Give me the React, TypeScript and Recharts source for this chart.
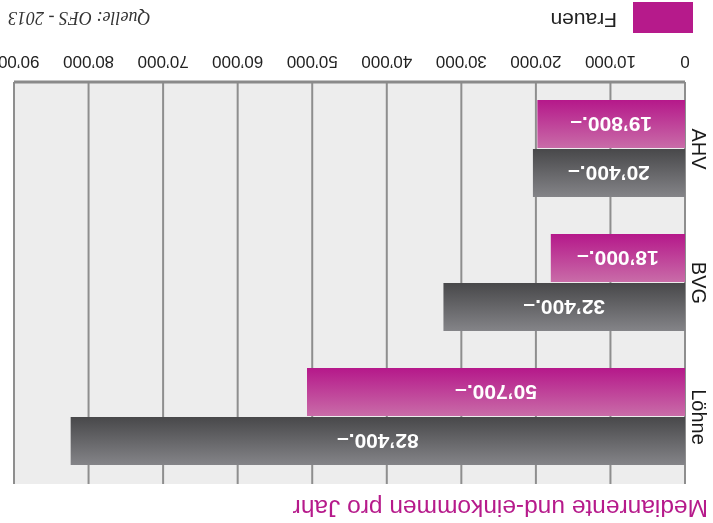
import { Bar, BarChart, CartesianGrid, LabelList, XAxis, YAxis } from "recharts";

// the reference is printed upside down, so the whole chart is drawn normally and turned 180deg
const categories = ["Löhne", "BVG", "AHV"];
const maenner = [82400, 32400, 20400];
const frauen = [50700, 18000, 19800];
const xTicks = [0, 10000, 20000, 30000, 40000, 50000, 60000, 70000, 80000, 90000];

const data = categories.map((name, i) => ({ name, maenner: maenner[i], frauen: frauen[i] }));

const MAGENTA = "#b61a8b";
const SANS = "'Liberation Sans', Arial, sans-serif";

const thousands = (v: number) => {
  const k = Math.floor(v / 1000);
  const r = String(v % 1000).padStart(3, "0");
  return k ? `${k}’${r}` : String(v);
};
const amount = (v: unknown) => `${thousands(Number(v))}.–`;

function CategoryTick({ x, y, payload }: any) {
  return (
    <text
      x={x}
      y={y}
      transform={`rotate(-90 ${x} ${y})`}
      textAnchor="middle"
      fontSize={20}
      fontFamily={SANS}
      fill="#1a1a1a"
    >
      {payload.value}
    </text>
  );
}

export default function App() {
  return (
    <div
      style={{
        position: "fixed",
        left: 0,
        top: 0,
        width: 713,
        height: 523,
        background: "#fff",
        transform: "rotate(180deg)",
        fontFamily: SANS,
      }}
    >
      <BarChart
        width={713}
        height={523}
        data={data}
        layout="vertical"
        margin={{ top: 39, right: 14, bottom: 52, left: 0 }}
        barSize={48}
        barGap={1}
      >
        <CartesianGrid horizontal={false} stroke="#8e8e8e" strokeWidth={2} fill="#ededed" fillOpacity={1} />
        <XAxis
          type="number"
          domain={[0, 90000]}
          ticks={xTicks}
          interval={0}
          height={30}
          tickFormatter={thousands}
          tickLine={false}
          tickSize={6}
          tickMargin={8}
          axisLine={{ stroke: "#8a8a8a", strokeWidth: 3 }}
          tick={{ fontSize: 17, fill: "#222", fontFamily: SANS }}
        />
        <YAxis
          type="category"
          dataKey="name"
          width={28}
          tickLine={false}
          axisLine={false}
          tickSize={0}
          tickMargin={7}
          tick={<CategoryTick />}
        />
        <Bar dataKey="maenner" fill="url(#gMaenner)" isAnimationActive={false}>
          <LabelList
            dataKey="maenner"
            position="center"
            formatter={amount}
            fill="#fff"
            fontSize={21}
            fontWeight="bold"
            fontFamily={SANS}
          />
        </Bar>
        <Bar dataKey="frauen" fill="url(#gFrauen)" isAnimationActive={false}>
          <LabelList
            dataKey="frauen"
            position="center"
            formatter={amount}
            fill="#fff"
            fontSize={21}
            fontWeight="bold"
            fontFamily={SANS}
          />
        </Bar>
      </BarChart>

      {/* title, legend, source */}
      <svg width={713} height={523} style={{ position: "absolute", left: 0, top: 0, pointerEvents: "none" }}>
        <defs>
          <linearGradient id="gFrauen" x1="0" y1="0" x2="0" y2="1">
            <stop offset="0%" stopColor="#c96ca8" />
            <stop offset="100%" stopColor="#b5188a" />
          </linearGradient>
          <linearGradient id="gMaenner" x1="0" y1="0" x2="0" y2="1">
            <stop offset="0%" stopColor="#848488" />
            <stop offset="100%" stopColor="#48484a" />
          </linearGradient>
        </defs>
        <text x={5} y={23} fontSize={24.5} fill={MAGENTA} fontFamily={SANS}>
          Medianrente und-einkommen pro Jahr
        </text>
        <rect x={20} y={490} width={60} height={31} fill={MAGENTA} />
        <text x={96} y={510} fontSize={21} fill="#222" fontFamily={SANS}>
          Frauen
        </text>
        <text
          x={705}
          y={511}
          textAnchor="end"
          fontSize={18}
          fontStyle="italic"
          fill="#333"
          fontFamily="'Liberation Serif', 'Times New Roman', serif"
        >
          Quelle: OFS - 2013
        </text>
      </svg>
    </div>
  );
}
